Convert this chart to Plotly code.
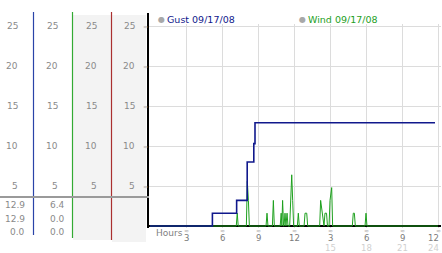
import plotly.graph_objects as go

W, H = 442, 253

# ---------------- data ----------------
gust_hours = [0, 5.2, 7.22, 8.1, 8.65, 8.75, 23.75]
gust_vals = [0, 1.6, 3.2, 8.0, 10.3, 12.9, 12.9]

wind_hours = [0, 7.19, 7.27, 7.35, 8.03, 8.11, 8.2, 8.28, 9.67, 9.75, 9.83,
              10.2, 10.28, 10.36, 10.85, 10.93, 10.99, 11.05, 11.13,
              11.17, 11.25, 11.33, 11.42, 11.5, 11.64, 11.72, 11.81, 11.89, 11.97,
              12.28, 12.36, 12.44, 12.84, 12.92, 13.06, 13.14,
              14.14, 14.22, 14.36, 14.44, 14.5, 14.58, 14.71, 14.79,
              14.92, 15.0, 15.14, 15.22, 16.86, 16.94, 17.03, 17.11,
              17.92, 18.0, 18.08, 24.0]
wind_vals = [0, 0, 1.6, 0, 0, 5.6, 3.2, 0, 0, 1.6, 0,
             0, 3.2, 0, 0, 1.6, 0, 3.2, 0,
             0, 1.6, 0, 1.6, 0, 0, 3.2, 6.4, 3.2, 0,
             0, 1.6, 0, 0, 1.6, 1.6, 0,
             0, 3.2, 1.6, 0, 0, 1.6, 1.6, 0,
             0, 3.2, 4.8, 0, 0, 1.6, 1.6, 0,
             0, 1.6, 0, 0]

y_ticks = [5, 10, 15, 20, 25]
x_ticks = [3, 6, 9, 12, 15, 18, 21, 24]
x_labels_top = ["3", "6", "9", "12", "3", "6", "9", "12"]
x_labels_bottom = ["", "", "", "", "15", "18", "21", "24"]

legend_names = ["Gust 09/17/08", "Wind 09/17/08"]
col1_stats = ["12.9", "12.9", "0.0"]
col2_stats = ["6.4", "0.0", "0.0"]

GUST_C = "#10188c"
WIND_C = "#1ea01e"
FONT = "DejaVu Sans"


def px(x):
    return x / W


def py(y):
    return 1 - y / H


fig = go.Figure()
fig.add_trace(go.Scatter(x=wind_hours, y=wind_vals, mode="lines",
                         line=dict(color=WIND_C, width=1), hoverinfo="skip"))
fig.add_trace(go.Scatter(x=gust_hours, y=gust_vals, mode="lines",
                         line=dict(color=GUST_C, width=1.6, shape="hv"),
                         hoverinfo="skip"))

shapes = []
# left panel backgrounds
shapes.append(dict(type="rect", xref="paper", yref="paper", x0=px(73), x1=px(111),
                   y0=py(240), y1=py(15), fillcolor="#f3f3f3", line_width=0, layer="below"))
shapes.append(dict(type="rect", xref="paper", yref="paper", x0=px(112), x1=px(146),
                   y0=py(242), y1=py(15), fillcolor="#f3f3f3", line_width=0, layer="below"))
# coloured separators
for xx, y1, c in [(33.5, 235, "#2a44a8"), (72.5, 238, "#33aa33"), (111.5, 240, "#aa3030")]:
    shapes.append(dict(type="line", xref="paper", yref="paper", x0=px(xx), x1=px(xx),
                       y0=py(12), y1=py(y1), line=dict(color=c, width=1.2)))
# gray horizontal separator
shapes.append(dict(type="line", xref="paper", yref="paper", x0=0, x1=px(149),
                   y0=py(197), y1=py(197), line=dict(color="#9a9a9a", width=2)))
# white band behind the legend row
shapes.append(dict(type="rect", xref="paper", yref="paper", x0=px(150), x1=px(442),
                   y0=py(24), y1=py(12), fillcolor="white", line_width=0, layer="above"))

ann = []
col_right = [20, 60, 99, 137]
for v in y_ticks:
    for cr in col_right:
        ann.append(dict(x=px(cr), y=v, xref="paper", yref="y", text=str(v),
                        showarrow=False, xanchor="right", yanchor="middle",
                        font=dict(family=FONT, size=9, color="#8a8a8a")))
    ann.append(dict(x=px(145.5), y=v, xref="paper", yref="y", text="≈",
                    showarrow=False, xanchor="center", yanchor="middle",
                    font=dict(family=FONT, size=6, color="#aaaaaa")))

stat_rows = [204.5, 218.5, 232]
for i, yy in enumerate(stat_rows):
    ann.append(dict(x=px(27), y=py(yy), xref="paper", yref="paper", text=col1_stats[i],
                    showarrow=False, xanchor="right", yanchor="middle",
                    font=dict(family=FONT, size=9, color="#8a8a8a")))
    ann.append(dict(x=px(67), y=py(yy), xref="paper", yref="paper", text=col2_stats[i],
                    showarrow=False, xanchor="right", yanchor="middle",
                    font=dict(family=FONT, size=9, color="#8a8a8a")))

# x tick labels
ann.append(dict(x=px(154), y=py(232.5), xref="paper", yref="paper", text="Hours",
                showarrow=False, xanchor="left", yanchor="middle",
                font=dict(family=FONT, size=9, color="#808080")))
n = len(x_ticks)
for i, (h, t, b) in enumerate(zip(x_ticks, x_labels_top, x_labels_bottom)):
    last = i == n - 1
    xa = "right" if last else "center"
    xs = 3 if last else 0
    ann.append(dict(x=h, y=py(230), xref="x", yref="paper", text="≈",
                    showarrow=False, xanchor="center", yanchor="middle",
                    font=dict(family=FONT, size=6, color="#aaaaaa")))
    ann.append(dict(x=h, y=py(237.5), xref="x", yref="paper", text=t,
                    showarrow=False, xanchor=xa, xshift=xs, yanchor="middle",
                    font=dict(family=FONT, size=8.5, color="#7a7a7a")))
    if b:
        ann.append(dict(x=h, y=py(247.5), xref="x", yref="paper", text=b,
                        showarrow=False, xanchor=xa, xshift=xs, yanchor="middle",
                        font=dict(family=FONT, size=8.5, color="#d0d0d0")))

# legend
for bx, name, c in [(161, legend_names[0], GUST_C), (302, legend_names[1], WIND_C)]:
    ann.append(dict(x=px(bx), y=py(19.5), xref="paper", yref="paper", text="●",
                    showarrow=False, xanchor="center", yanchor="middle",
                    font=dict(family=FONT, size=8, color="#a8a8a8")))
    ann.append(dict(x=px(bx + 4), y=py(19.5), xref="paper", yref="paper", text=name,
                    showarrow=False, xanchor="left", yanchor="middle",
                    font=dict(family=FONT, size=9.5, color=c)))

fig.update_layout(
    width=W, height=H, margin=dict(l=0, r=0, t=0, b=0),
    paper_bgcolor="white", plot_bgcolor="white", showlegend=False,
    shapes=shapes, annotations=ann,
    xaxis=dict(domain=[px(149), px(441)], range=[-1 / 12, (441 - 150) / 12],
               tickvals=x_ticks, showticklabels=False, ticks="",
               showgrid=True, gridcolor="#dcdcdc", gridwidth=1,
               zeroline=False, showline=False, fixedrange=True),
    yaxis=dict(domain=[py(227.5), py(13)], range=[-1.5 / 8, (226 - 13) / 8],
               tickvals=y_ticks, showticklabels=False, ticks="",
               showgrid=True, gridcolor="#dcdcdc", gridwidth=1,
               zeroline=True, zerolinecolor="#000000", zerolinewidth=1.5,
               showline=True, linecolor="#000000", linewidth=1.5, fixedrange=True),
)

fig.write_html("out.html", config={"displayModeBar": False})
